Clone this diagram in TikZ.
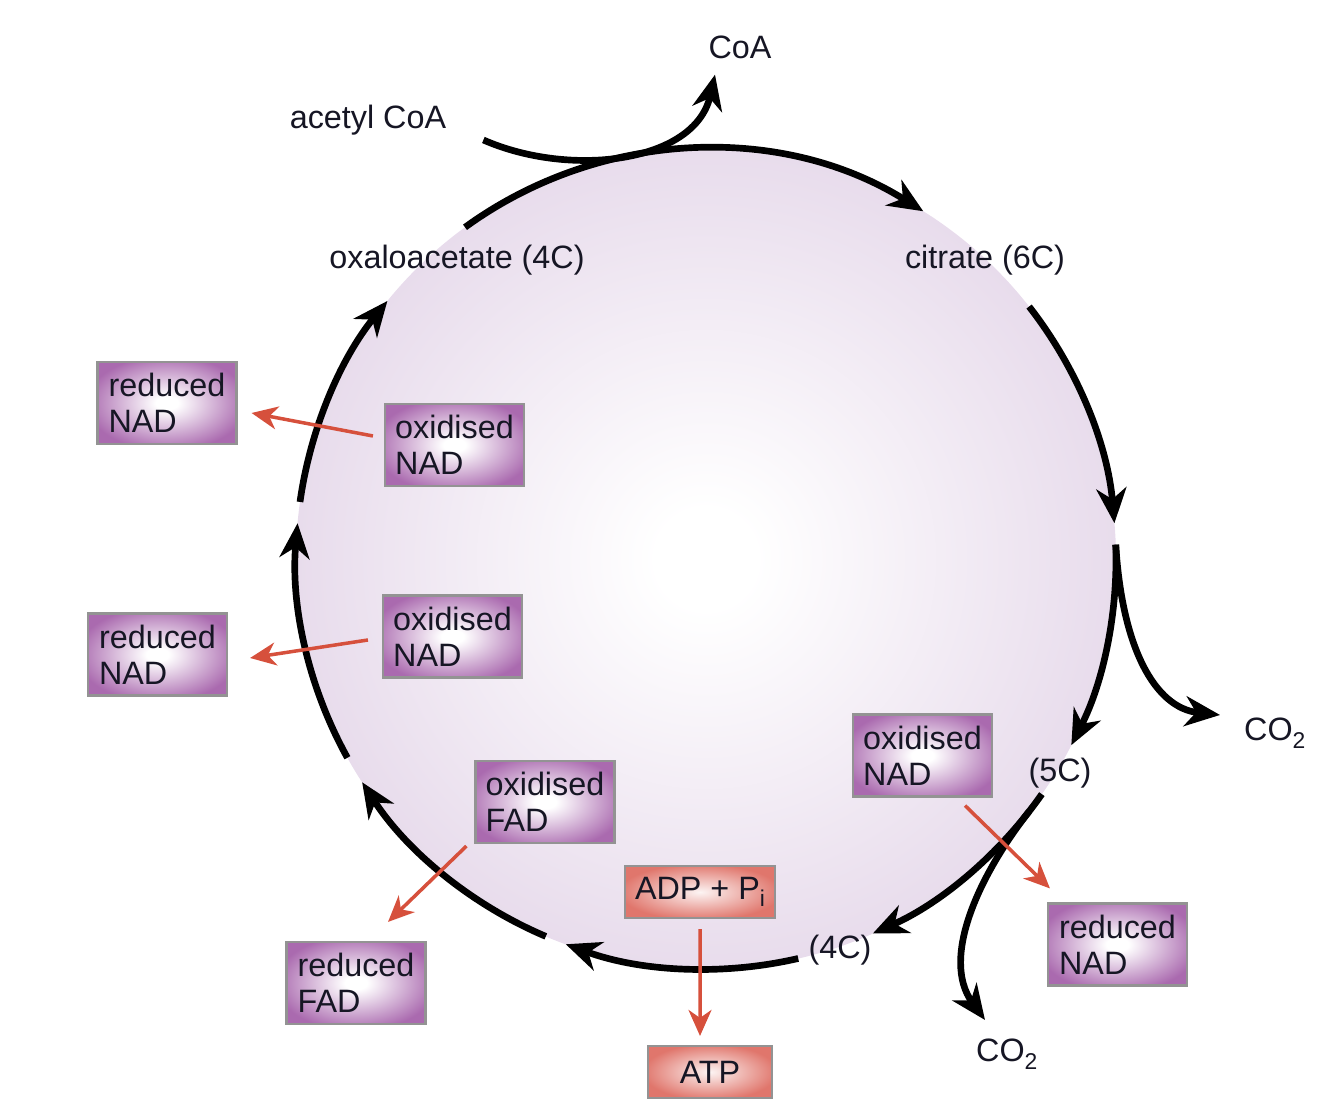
\documentclass[tikz,border=0pt]{standalone}
\usepackage{fontspec}
\setmainfont{Liberation Sans}
\usepackage{tikz}
\usetikzlibrary{arrows.meta}

\definecolor{cyclil}{RGB}{232,220,236}
\definecolor{boxpur}{RGB}{170,106,175}
\definecolor{boxsal}{RGB}{224,118,108}
\definecolor{redarr}{RGB}{214,80,60}
\definecolor{txt}{RGB}{22,22,36}

\pgfdeclareradialshading{cycshade}{\pgfpointorigin}{color(0bp)=(white); color(3bp)=(white); color(25bp)=(cyclil); color(50bp)=(cyclil)}
\pgfdeclareradialshading{purshade}{\pgfpointorigin}{color(0bp)=(white); color(4bp)=(white); color(29bp)=(boxpur); color(50bp)=(boxpur)}
\pgfdeclareradialshading{salshade}{\pgfpointorigin}{color(0bp)=(white!92!boxsal); color(27bp)=(boxsal); color(50bp)=(boxsal)}

\newcommand{\lblfont}{\fontsize{9.2}{10.2}\selectfont}
\newcommand{\lowsub}[1]{\raisebox{-0.45ex}{\fontsize{6.5}{7}\selectfont #1}}

\begin{document}
\begin{tikzpicture}[
    pbox/.style={draw=gray!85, line width=0.6pt, shade, shading=purshade,
                 minimum width=13.9mm, minimum height=8.2mm, inner sep=1mm,
                 align=left, font=\lblfont, text=txt},
    sbox/.style={draw=gray!85, line width=0.6pt, shade, shading=salshade,
                 minimum height=5.2mm, inner sep=1mm, font=\lblfont, text=txt},
    lbl/.style={font=\lblfont, text=txt, inner sep=1pt},
    cyarr/.style={-{Stealth[length=3.5mm, width=3mm, inset=1.1mm]}, line width=1.9pt},
    rarr/.style={-{Stealth[length=2.6mm, width=2.3mm, inset=0.8mm]}, line width=1pt, redarr},
]
\useasboundingbox (0,0) rectangle (13.34,11.18);

% ===== Cycle disc =====
\node[circle, minimum size=82mm, inner sep=0pt, outer sep=0pt, shade, shading=cycshade]
    (cyc) at (7.06,5.59) {};

% ===== Cycle arrows (clockwise) =====
\draw[cyarr] (cyc.126) arc[start angle=126, end angle=58, radius=41mm];
\draw[cyarr] (cyc.38)  arc[start angle=38,  end angle=5,  radius=41mm];
\draw[cyarr] (cyc.2)   arc[start angle=2,   end angle=-27, radius=41mm];
\draw[cyarr] (cyc.-35) arc[start angle=-35, end angle=-66, radius=41mm];
\draw[cyarr] (cyc.-77) arc[start angle=-77, end angle=-110, radius=41mm];
\draw[cyarr] (cyc.-113) arc[start angle=-113, end angle=-147, radius=41mm];
\draw[cyarr] (cyc.209) arc[start angle=209, end angle=175, radius=41mm];
\draw[cyarr] (cyc.172) arc[start angle=172, end angle=141, radius=41mm];

% ===== Labels on the cycle =====
\node[lbl] (acoa) at (3.68,9.98) {acetyl CoA};
\node[lbl] (coa)  at (7.40,10.71) {CoA};
\node[lbl] (oxa)  at (4.57,8.58) {oxaloacetate (4C)};
\node[lbl] (cit)  at (9.85,8.58) {citrate (6C)};
\node[lbl] (fivec) at (10.60,3.45) {(5C)};
\node[lbl] (fourc) at (8.40,1.68) {(4C)};
\node[lbl, anchor=base west] (co2a) at (12.40,3.77) {CO\lowsub{2}};
\node[lbl, anchor=base west] (co2b) at (9.72,0.56) {CO\lowsub{2}};

% ===== Side branches =====
\draw[cyarr] ([xshift=3.3mm, yshift=-2mm]acoa.east)
    .. controls (5.70,9.40) and (6.95,9.55) .. ([xshift=-2.5mm, yshift=-1.2mm]coa.south);
\draw[cyarr] (cyc.2)
    .. controls (11.22,4.70) and (11.55,4.10) .. ([xshift=-2mm, yshift=2.6mm]co2a.base west);
\draw[cyarr] (cyc.-38)
    .. controls (9.80,2.44) and (9.40,1.60) .. ([xshift=1.3mm, yshift=4.2mm]co2b.base west);

% ===== Carrier boxes =====
\node[pbox] (rnad1) at (1.67,7.15)  {reduced\\NAD};
\node[pbox] (onad1) at (4.545,6.73) {oxidised\\NAD};
\node[pbox] (rnad2) at (1.575,4.635) {reduced\\NAD};
\node[pbox] (onad2) at (4.525,4.815) {oxidised\\NAD};
\node[pbox] (ofad)  at (5.45,3.16)  {oxidised\\FAD};
\node[pbox] (rfad)  at (3.56,1.35)  {reduced\\FAD};
\node[pbox] (onad3) at (9.225,3.625) {oxidised\\NAD};
\node[pbox] (rnad3) at (11.175,1.735) {reduced\\NAD};
\node[sbox, minimum width=14.6mm] (adp) at (7.00,2.26) {ADP + P\lowsub{i}};
\node[sbox, minimum width=12.4mm] (atp) at (7.10,0.46) {ATP};

% ===== Red arrows =====
\draw[rarr] ([xshift=-1.1mm, yshift=0.9mm]onad1.west) -- ([xshift=1.4mm, yshift=-1mm]rnad1.east);
\draw[rarr] ([xshift=-1.4mm, yshift=-0.35mm]onad2.west) -- ([xshift=2.2mm, yshift=-0.35mm]rnad2.east);
\draw[rarr] ([xshift=-0.8mm, yshift=-0.2mm]ofad.south west) -- ([xshift=3.2mm, yshift=1.9mm]rfad.north);
\draw[rarr] ([yshift=-1mm]adp.south) -- ([xshift=-1mm, yshift=0.9mm]atp.north);
\draw[rarr] ([xshift=4.25mm, yshift=-0.8mm]onad3.south) -- ([xshift=0.3mm, yshift=1.4mm]rnad3.north west);

\end{tikzpicture}
\end{document}
